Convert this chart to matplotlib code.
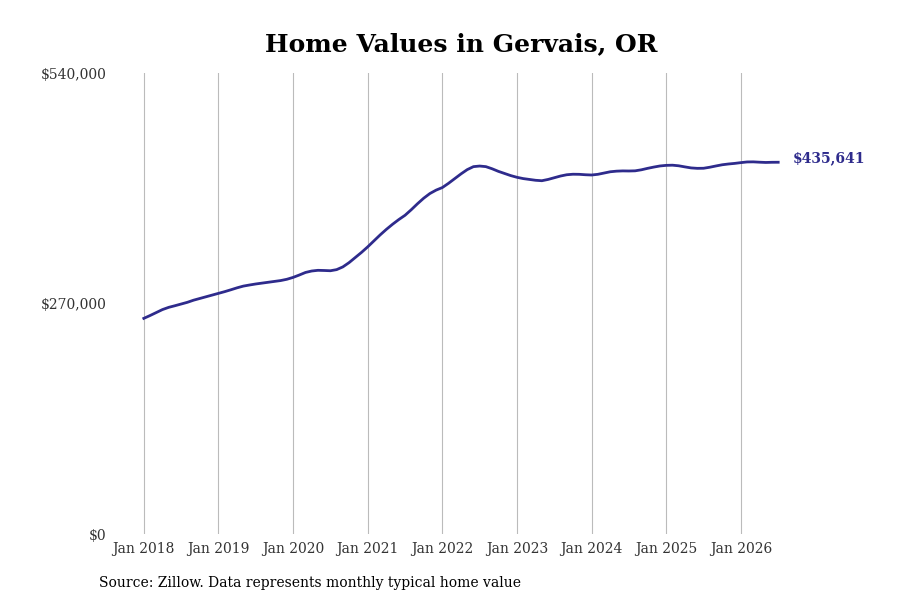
import matplotlib.pyplot as plt
import numpy as np

plt.rcParams['font.family'] = 'DejaVu Serif'

# monthly typical home value, Jan 2018 .. Jul 2026
values = [
    252700, 256000, 259500, 263000, 265600, 267500, 269500, 271500, 274000, 276000, 278000, 280000,
    282000, 284000, 286200, 288500, 290500, 291800, 293000, 294000, 295000, 296000, 297000, 298500,
    300700, 303500, 306500, 308200, 309000, 308800, 308500, 309800, 313000, 318000, 324000, 330000,
    336500, 343500, 350500, 357000, 363000, 368500, 373500, 380000, 387000, 393500, 399000, 403000,
    406000, 411000, 416500, 422000, 427000, 430500, 431200, 430500, 428000, 425000, 422500, 420000,
    418000, 416500, 415500, 414500, 414000, 415500, 417500, 419500, 421000, 421600, 421500, 421000,
    420700, 421500, 423000, 424500, 425200, 425500, 425400, 425600, 426800, 428500, 430000, 431300,
    432000, 432200, 431500, 430200, 429000, 428500, 428600, 429800, 431300, 432700, 433600, 434300,
    435200, 436000, 436100, 435700, 435400, 435600, 435641,
]
months = np.arange(len(values))
tick_labels = ['Jan 2018', 'Jan 2019', 'Jan 2020', 'Jan 2021', 'Jan 2022',
               'Jan 2023', 'Jan 2024', 'Jan 2025', 'Jan 2026']
tick_pos = [12 * i for i in range(len(tick_labels))]
y_ticks = [0, 270000, 540000]
y_labels = ['$0', '$270,000', '$540,000']

line_color = '#2e2b8c'

fig = plt.figure(figsize=(9, 6), dpi=100)
ax = fig.add_axes([0.128, 0.11, 0.85, 0.768])

ax.plot(months, values, color=line_color, lw=2)
ax.text(months[-1] + 2.3, values[-1] + 5000, '${:,}'.format(values[-1]), color=line_color,
        fontsize=10, fontweight='bold', va='center', ha='left')

ax.set_xlim(-4.6, 118.4)
ax.set_ylim(0, 540000)
ax.set_xticks(tick_pos)
ax.set_xticklabels(tick_labels, fontsize=10, color='#333333')
ax.set_yticks(y_ticks)
ax.set_yticklabels(y_labels, fontsize=10, color='#333333')
ax.tick_params(length=0, pad=6)
ax.grid(axis='x', color='#bbbbbb', lw=0.8)
ax.set_axisbelow(True)
for s in ax.spines.values():
    s.set_visible(False)

fig.text(0.512, 0.927, 'Home Values in Gervais, OR', ha='center', va='center',
         fontsize=18, fontweight='bold')
fig.text(0.11, 0.028, 'Source: Zillow. Data represents monthly typical home value',
         ha='left', va='center', fontsize=10)

fig.savefig('out.png', dpi=100)
